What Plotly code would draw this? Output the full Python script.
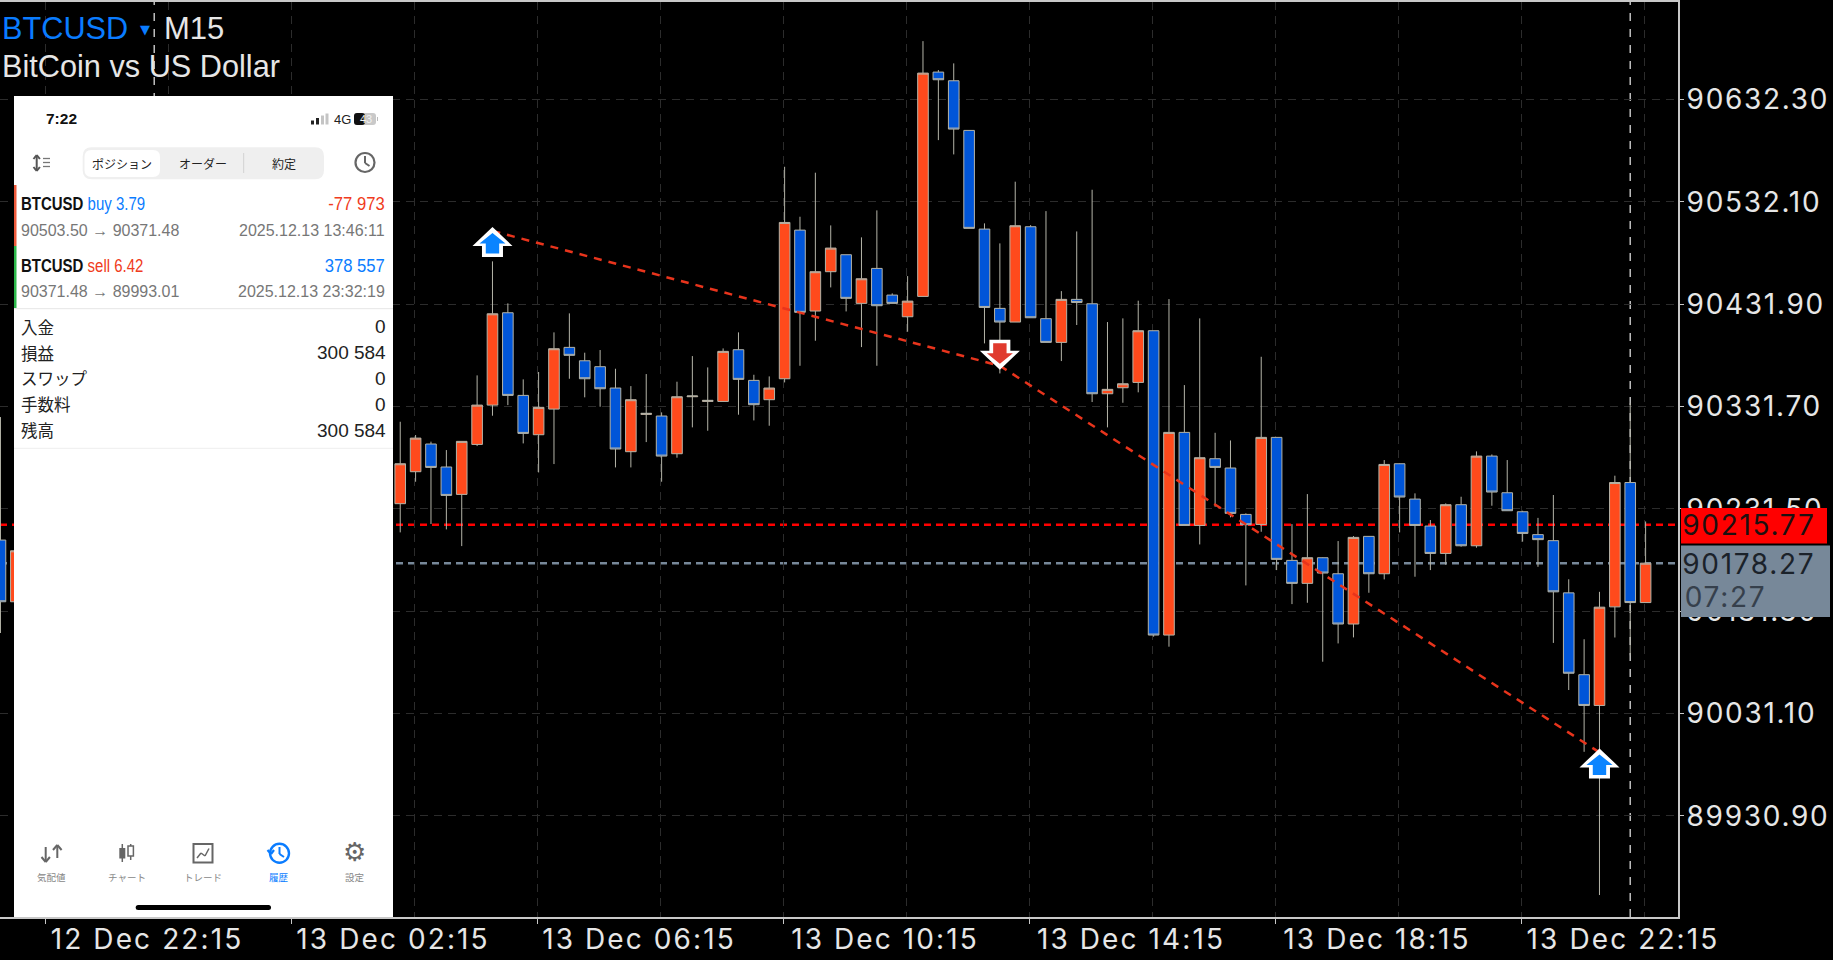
import pandas as pd
import plotly.graph_objects as go

# two bars left of the phone screenshot, then the visible run from 04:00
bar_times = list(pd.date_range("2025-12-12 21:30", periods=2, freq="15min")) + \
    list(pd.date_range("2025-12-13 04:00", periods=82, freq="15min"))

bar_open = [90200.9, 90140.5,
    90236.5, 90267.8, 90294.9, 90272.4, 90245.6, 90294.5, 90333.0, 90423.4, 90342.5, 90304.0,
    90329.1, 90389.5, 90376.4, 90370.6, 90349.7, 90287.4, 90323.9, 90322.3, 90285.4, 90341.2,
    90336.6, 90336.6, 90387.2, 90357.2, 90338.3, 90358.8, 90504.3, 90425.1, 90463.6, 90480.2,
    90432.6, 90466.8, 90440.7, 90419.5, 90439.4, 90659.0, 90650.5, 90601.9, 90505.3, 90427.7,
    90414.3, 90507.6, 90417.6, 90394.4, 90436.5, 90432.2, 90344.1, 90350.0, 90355.2, 90405.8,
    90107.9, 90306.3, 90215.2, 90280.5, 90271.4, 90226.0, 90216.2, 90301.4, 90181.0, 90158.5,
    90183.6, 90167.9, 90118.7, 90204.5, 90167.9, 90275.6, 90241.0, 90214.6, 90187.8, 90235.5,
    90195.3, 90283.1, 90247.2, 90228.6, 90206.2, 90200.3, 90149.2, 90069.1, 90039.0, 90135.5,
    90257.2, 90139.7]
bar_high = [90321.3, 90190.4,
    90316.7, 90303.7, 90297.2, 90289.0, 90297.5, 90362.1, 90473.7, 90432.6, 90358.2, 90365.4,
    90404.2, 90422.8, 90384.3, 90386.9, 90368.6, 90351.6, 90363.4, 90325.9, 90355.9, 90381.0,
    90369.9, 90388.5, 90404.2, 90362.7, 90361.1, 90566.3, 90517.4, 90560.5, 90508.9, 90480.2,
    90497.2, 90523.6, 90442.4, 90459.3, 90689.3, 90661.0, 90667.5, 90602.2, 90510.9, 90491.3,
    90551.7, 90509.2, 90522.9, 90444.6, 90503.0, 90543.8, 90414.3, 90417.9, 90435.2, 90405.8,
    90436.8, 90352.6, 90417.9, 90305.9, 90298.4, 90227.0, 90380.3, 90301.4, 90216.5, 90245.9,
    90183.9, 90199.9, 90204.8, 90204.8, 90279.2, 90275.9, 90246.6, 90220.5, 90236.8, 90243.3,
    90287.7, 90284.7, 90279.2, 90229.6, 90222.6, 90245.0, 90162.5, 90103.8, 90150.2, 90263.9,
    90335.0, 90219.1]
bar_low = [90109.9, 90140.5,
    90208.4, 90258.0, 90216.6, 90211.3, 90195.0, 90292.9, 90322.6, 90333.0, 90295.5, 90267.1,
    90275.3, 90358.8, 90340.6, 90331.4, 90272.0, 90272.0, 90296.8, 90258.0, 90281.5, 90311.2,
    90307.9, 90336.6, 90323.6, 90318.0, 90312.8, 90355.2, 90371.5, 90396.0, 90448.2, 90424.7,
    90389.8, 90371.5, 90432.6, 90404.8, 90439.4, 90592.4, 90578.4, 90506.0, 90393.4, 90364.0,
    90414.3, 90418.5, 90394.4, 90376.1, 90411.4, 90336.0, 90311.2, 90335.3, 90345.5, 90106.3,
    90096.5, 90215.2, 90196.6, 90233.5, 90223.1, 90156.5, 90209.0, 90171.5, 90138.2, 90139.5,
    90081.8, 90099.7, 90105.6, 90149.3, 90162.4, 90208.4, 90165.0, 90171.5, 90176.7, 90194.4,
    90193.4, 90234.5, 90229.6, 90199.3, 90174.7, 90100.2, 90054.1, 89993.6, 89853.4, 90105.5,
    90088.0, 90139.7]
bar_close = [90140.5, 90190.4,
    90275.6, 90300.7, 90272.0, 90244.6, 90297.5, 90333.0, 90422.4, 90342.5, 90305.3, 90330.8,
    90388.2, 90381.7, 90358.8, 90349.0, 90290.0, 90338.3, 90324.9, 90283.1, 90341.2, 90341.9,
    90337.6, 90385.6, 90358.2, 90333.4, 90349.7, 90511.8, 90423.8, 90463.6, 90486.7, 90437.5,
    90456.7, 90430.3, 90432.6, 90434.8, 90658.0, 90651.5, 90603.2, 90506.0, 90428.6, 90414.3,
    90508.6, 90418.5, 90394.4, 90436.5, 90433.5, 90344.1, 90348.4, 90353.9, 90405.8, 90107.9,
    90306.3, 90215.2, 90281.5, 90272.0, 90227.0, 90215.9, 90301.4, 90182.0, 90158.5, 90183.6,
    90168.6, 90118.7, 90203.5, 90167.9, 90274.9, 90243.0, 90215.2, 90187.8, 90235.5, 90195.3,
    90283.1, 90247.9, 90229.6, 90207.4, 90201.3, 90150.2, 90070.5, 90039.0, 90135.2, 90257.2,
    90139.7, 90178.27]

# trades drawn on the chart
trade_times = ["2025-12-13 05:30", "2025-12-13 13:45", "2025-12-13 23:30"]
trade_prices = [90503.50, 90371.48, 89993.01]
trade_sides = ["buy", "sell", "buy"]

ask_price = 90215.77
bid_price = 90178.27
countdown = "07:27"
separators = ["2025-12-13 00:00", "2025-12-14 00:00"]

price_ticks_start = 90632.30
price_tick_step = 100.2

# MT5 draws the candle a little right of the grid line
shift = pd.Timedelta(seconds=94)
stamp = lambda t: (pd.Timestamp(t) + shift).strftime("%Y-%m-%d %H:%M:%S")

W, H, PLOT_R, PLOT_T, PLOT_B = 1833, 960, 1678, 2, 917
SANS = "Liberation Sans"
NUM = "Inter"
CJK = "Noto Sans CJK JP"
BLUE = "#0A7CFF"
RED = "#F03B20"
GRID = "#2C2C2C"

shapes = []
annotations = []


def px(x):
    return x / PLOT_R


def py(y):
    return (PLOT_B - y) / (PLOT_B - PLOT_T)


def rect(x0, y0, x1, y1, fill, line=None, lw=0):
    shapes.append(dict(type="rect", xref="paper", yref="paper", x0=px(x0), x1=px(x1), y0=py(y0), y1=py(y1),
                       fillcolor=fill, line=dict(color=line or fill, width=lw), layer="above"))


def rrect(x0, y0, x1, y1, r, fill):
    path = (f"M {px(x0+r)} {py(y0)} L {px(x1-r)} {py(y0)} Q {px(x1)} {py(y0)} {px(x1)} {py(y0+r)} "
            f"L {px(x1)} {py(y1-r)} Q {px(x1)} {py(y1)} {px(x1-r)} {py(y1)} "
            f"L {px(x0+r)} {py(y1)} Q {px(x0)} {py(y1)} {px(x0)} {py(y1-r)} "
            f"L {px(x0)} {py(y0+r)} Q {px(x0)} {py(y0)} {px(x0+r)} {py(y0)} Z")
    shapes.append(dict(type="path", xref="paper", yref="paper", path=path, fillcolor=fill,
                       line=dict(width=0), layer="above"))


def seg(x0, y0, x1, y1, color, lw=1.5):
    shapes.append(dict(type="line", xref="paper", yref="paper", x0=px(x0), x1=px(x1), y0=py(y0), y1=py(y1),
                       line=dict(color=color, width=lw), layer="above"))


def circle(cx, cy, r, color, lw=2):
    shapes.append(dict(type="circle", xref="paper", yref="paper", x0=px(cx-r), x1=px(cx+r), y0=py(cy-r), y1=py(cy+r),
                       line=dict(color=color, width=lw), layer="above"))


def txt(x, y, s, size, color, family=SANS, anchor="left"):
    annotations.append(dict(x=px(x), y=py(y), xref="paper", yref="paper", text=s, showarrow=False,
                            xanchor=anchor, yanchor="middle", borderpad=0,
                            font=dict(family=family, size=size, color=color)))


def arrow(when, price, up, inner):
    s = 1 if up else -1
    outer_pts = [(0, 4), (20, -15), (10.5, -15), (10.5, -26), (-10.5, -26), (-10.5, -15), (-20, -15)]
    inner_pts = [(0, -2), (13, -12.5), (6.7, -12.5), (6.7, -22.5), (-6.7, -22.5), (-6.7, -12.5), (-13, -12.5)]
    for pts, color in [(outer_pts, "#FFFFFF"), (inner_pts, inner)]:
        path = "M " + " L ".join(f"{a} {s*b}" for a, b in pts) + " Z"
        shapes.append(dict(type="path", xref="x", yref="y", xsizemode="pixel", ysizemode="pixel",
                           xanchor=stamp(when), yanchor=price, path=path, fillcolor=color,
                           line=dict(width=0), layer="above"))


# lines under the candles
for sep in separators:
    shapes.append(dict(type="line", xref="x", yref="paper", x0=stamp(sep), x1=stamp(sep), y0=0, y1=1,
                       line=dict(color="#BEBEBE", width=1.5, dash="8px,8px"), layer="below"))
shapes.append(dict(type="line", xref="paper", yref="y", x0=0, x1=1, y0=ask_price, y1=ask_price,
                   line=dict(color="#FF0000", width=2.5, dash="7px,5px"), layer="below"))
shapes.append(dict(type="line", xref="paper", yref="y", x0=0, x1=1, y0=bid_price, y1=bid_price,
                   line=dict(color="#778899", width=2.5, dash="7px,5px"), layer="below"))

for t, p, side in zip(trade_times, trade_prices, trade_sides):
    arrow(t, p, side == "buy", "#0A84FF" if side == "buy" else "#E03A2E")

# price boxes on the right
rect(1681, 508, 1827, 543.5, "#FF0000")
rect(1681, 545.5, 1830, 617, "#778899")
txt(1688, 525, f"{ask_price:.2f}", 28, "#1C1010", NUM)
txt(1688, 563.5, f"{bid_price:.2f}", 28, "#1B222A", NUM)
txt(1688, 596.5, countdown, 28, "#36404C", NUM)

# header
txt(1, 28, "BTCUSD", 30.7, BLUE)
txt(139, 30, "▼", 13, BLUE, "DejaVu Sans")
txt(163, 28, "M15", 31, "#E6E6E6")
txt(1, 66, "BitCoin vs US Dollar", 30.7, "#E6E6E6")

# phone screenshot
rect(14, 96, 393, 917, "#FFFFFF")
txt(44.5, 119, "<b>7:22</b>", 15.5, "#111111")
for bx, bh, col in [(311, 4, "#222222"), (316, 6.5, "#222222"), (321, 9, "#C4C4C4"), (325.5, 11, "#C4C4C4")]:
    rect(bx, 124.5 - bh, bx + 3, 124.5, col)
txt(333, 119.5, "4G", 13, "#222222")
rrect(354, 113, 376, 125, 3, "#C9C9C9")
rrect(354, 113, 365, 125, 3, "#111111")
rect(377, 117, 378, 121, "#BBBBBB")
txt(365.5, 119, "43", 11, "#F2F2F2", SANS, "center")

seg(36.7, 156, 36.7, 170, "#555555", 2)
seg(33.5, 159, 36.7, 155, "#555555", 2)
seg(39.9, 159, 36.7, 155, "#555555", 2)
seg(33.5, 167, 36.7, 171, "#555555", 2)
seg(39.9, 167, 36.7, 171, "#555555", 2)
for ly in [158.5, 162.5, 166.5]:
    seg(43, ly, 50, ly, "#777777", 1.3)

rrect(82.7, 147.3, 324, 179.3, 9, "#EFEFEF")
rrect(84.5, 150, 160, 177, 7, "#FFFFFF")
seg(243.7, 153, 243.7, 173, "#D2D2D2", 1)
txt(121.7, 163.5, "ポジション", 12, "#222222", CJK, "center")
txt(203, 163.5, "オーダー", 12, "#222222", CJK, "center")
txt(283.7, 163.5, "約定", 12, "#222222", CJK, "center")

circle(365, 162.5, 9.5, "#666666", 2.2)
seg(365, 156, 365, 163, "#666666", 2)
seg(365, 163, 369.5, 166, "#666666", 2)

rect(14, 185, 16.5, 246, "#EE5A3C")
rect(14, 246, 16.5, 308, "#2DB84B")
txt(20, 204, f"<b>BTCUSD</b> <span style='color:{BLUE}'>buy 3.79</span>", 18.5, "#111111")
txt(386, 204, "-77 973", 18.5, RED, SANS, "right")
txt(19.5, 230, "90503.50 → 90371.48", 16, "#777777")
txt(386, 230, "2025.12.13 13:46:11", 16, "#777777", SANS, "right")
txt(20, 265, f"<b>BTCUSD</b> <span style='color:{RED}'>sell 6.42</span>", 18.5, "#111111")
txt(386, 265, "378 557", 18.5, BLUE, SANS, "right")
txt(19.5, 291.7, "90371.48 → 89993.01", 16, "#777777")
txt(386, 291.7, "2025.12.13 23:32:19", 16, "#777777", SANS, "right")
seg(14, 308.7, 393, 308.7, "#E6E6E6", 1)

summary_labels = ["入金", "損益", "スワップ", "手数料", "残高"]
summary_values = ["0", "300 584", "0", "0", "300 584"]
summary_rows = [326.7, 352.7, 378.3, 404.3, 430.3]
for lab, val, ry in zip(summary_labels, summary_values, summary_rows):
    txt(19.5, ry, lab, 16.5, "#222222", CJK)
    txt(386.5, ry, val, 19, "#222222", SANS, "right")
seg(14, 448.3, 393, 448.3, "#EEEEEE", 1)

# bottom tab bar
ICON = "#666666"
seg(45.7, 847, 45.7, 861, ICON, 2)
seg(41.5, 857, 45.7, 862, ICON, 2)
seg(49.9, 857, 45.7, 862, ICON, 2)
seg(57.3, 846, 57.3, 858, ICON, 2)
seg(53, 850, 57.3, 845, ICON, 2)
seg(61.6, 850, 57.3, 845, ICON, 2)

seg(122.3, 844, 122.3, 862, ICON, 1.5)
rect(119.3, 848, 125.3, 858.5, ICON)
seg(130.7, 844, 130.7, 860, ICON, 1.5)
rect(128, 846, 133.4, 856, "#FFFFFF", ICON, 1.5)

rect(193.5, 844, 212.5, 862.5, "#FFFFFF", ICON, 2)
for a, b, c, d in [(197, 858, 201, 853), (201, 853, 205, 856), (205, 856, 209, 848.5)]:
    seg(a, b, c, d, ICON, 1.5)

circle(279.5, 853.3, 9.5, BLUE, 2.4)
seg(279.5, 847, 279.5, 854, BLUE, 2)
seg(279.5, 854, 284, 857, BLUE, 2)
seg(267.5, 850, 271, 854, BLUE, 2.2)
seg(274, 850, 271, 854, BLUE, 2.2)

txt(354.7, 852, "⚙", 26, ICON, "DejaVu Sans", "center")

tab_labels = ["気配値", "チャート", "トレード", "履歴", "設定"]
tab_centers = [51.7, 126.7, 203, 278.7, 354.7]
for lab, cx in zip(tab_labels, tab_centers):
    txt(cx, 876.7, lab, 9.5, BLUE if lab == "履歴" else "#888888", CJK, "center")

rrect(135.7, 905, 271, 910, 2.5, "#000000")

candles = go.Candlestick(
    x=[t + shift for t in bar_times],
    open=bar_open, high=bar_high, low=bar_low, close=bar_close,
    whiskerwidth=0,
    increasing=dict(fillcolor="#FF4A1C", line=dict(color="#B4B4A8", width=1)),
    decreasing=dict(fillcolor="#0055D8", line=dict(color="#B4B4A8", width=1)),
)
trade_line = go.Scatter(
    x=[stamp(t) for t in trade_times], y=trade_prices, mode="lines",
    line=dict(color="#E8341C", width=2.5, dash="8px,7px"),
)

fig = go.Figure(data=[candles, trade_line])
fig.update_layout(
    width=W, height=H,
    margin=dict(l=0, r=W - PLOT_R, t=PLOT_T, b=H - PLOT_B, autoexpand=False),
    paper_bgcolor="#000000", plot_bgcolor="#000000",
    showlegend=False, boxgap=0.31, boxgroupgap=0,
    shapes=shapes, annotations=annotations,
    xaxis=dict(
        type="date", rangeslider=dict(visible=False),
        range=["2025-12-12 21:31:06", "2025-12-14 00:48:10"],
        tick0="2025-12-12 22:15", dtick=4 * 3600 * 1000, tickformat="%d %b %H:%M",
        tickangle=0, ticks="outside", ticklen=5, tickcolor="#C8C8C8", ticklabelshift=102,
        ticklabelstandoff=-9,
        tickfont=dict(family=NUM, size=28, color="#E6E6E6"),
        showgrid=True, gridcolor=GRID, griddash="8px,6px", gridwidth=1,
        minor=dict(tick0="2025-12-12 22:15", dtick=2 * 3600 * 1000, showgrid=True, gridcolor=GRID,
                   griddash="8px,6px", gridwidth=1, ticks=""),
        showline=True, mirror=True, linecolor="#C8C8C8", linewidth=2, zeroline=False,
    ),
    yaxis=dict(
        side="right", range=[89831.9, 90727.6],
        tick0=price_ticks_start, dtick=price_tick_step, tickformat=".2f",
        ticks="outside", ticklen=4, tickcolor="#C8C8C8", ticklabelstandoff=-3,
        tickfont=dict(family=NUM, size=28, color="#E6E6E6"),
        showgrid=True, gridcolor=GRID, griddash="8px,6px", gridwidth=1,
        showline=True, linecolor="#C8C8C8", linewidth=2, zeroline=False,
    ),
)

# the terminal tracks its numbers wide and the phone's trade rows use a condensed face
page_fixes = """
document.body.style.margin='0';document.body.style.overflow='hidden';
var st=document.createElement('style');
st.textContent='.xtick text{letter-spacing:2.1px}.ytick text{letter-spacing:1.7px}';
document.head.appendChild(st);
document.querySelectorAll('.annotation-text').forEach(function(t){
  var s=t.textContent, b=t.getBBox();
  if(/^\\d{5}\\.\\d\\d$/.test(s)||s==='07:27'){t.style.letterSpacing='1.7px';}
  if(s.indexOf('BTCUSD ')===0){t.setAttribute('transform','translate('+b.x+',0) scale(0.81,1) translate('+(-b.x)+',0)');}
  if(s==='-77 973'||s==='378 557'){var r=b.x+b.width;t.setAttribute('transform','translate('+r+',0) scale(0.9,1) translate('+(-r)+',0)');}
});
"""
fig.write_html("out.html", config={"displayModeBar": False}, post_script=page_fixes)
